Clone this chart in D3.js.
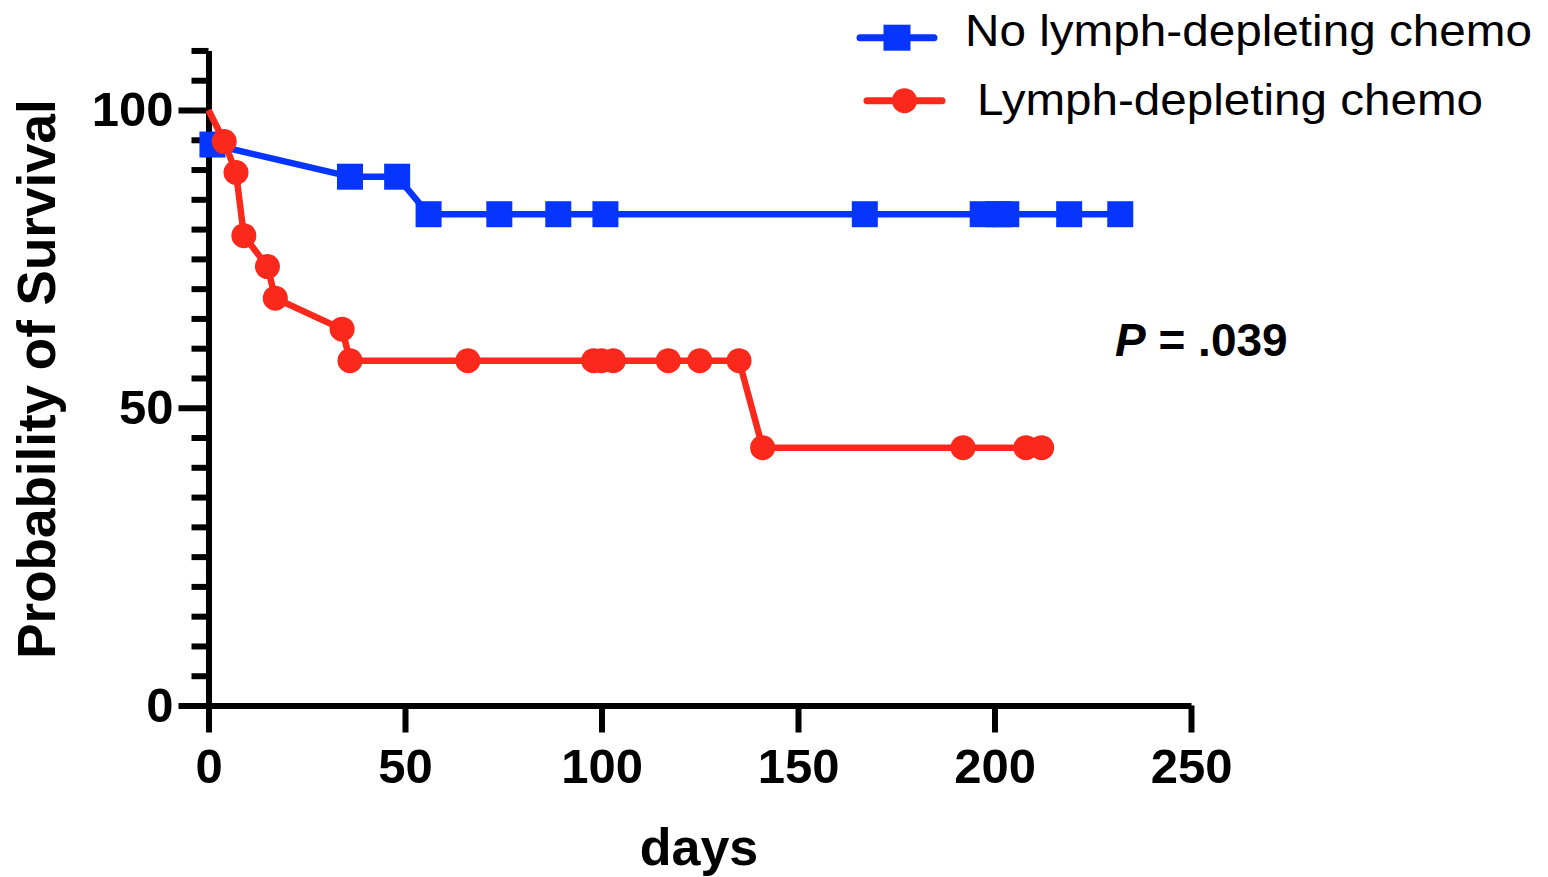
<!DOCTYPE html>
<html>
<head>
<meta charset="utf-8">
<script src="https://cdn.jsdelivr.net/npm/d3@7"></script>
<style>
  html, body { margin: 0; padding: 0; background: #fff; }
  svg { display: block; font-family: "Liberation Sans", Arial, Helvetica, sans-serif; }
</style>
</head>
<body>
<svg id="chart" width="1548" height="877"></svg>
<script>
// ---- data ----
const seriesNames = ["No lymph-depleting chemo", "Lymph-depleting chemo"];
const blueDays = [1, 36, 48, 56, 74, 89, 101, 167, 197, 201, 203, 219, 232];
const blueSurv = [94.2, 88.8, 88.8, 82.5, 82.5, 82.5, 82.5, 82.5, 82.5, 82.5, 82.5, 82.5, 82.5];
const redDays = [0, 4, 7, 9, 15, 17, 34, 36, 66, 98, 100, 103, 117, 125, 135, 141, 192, 208, 212];
const redSurv = [100, 94.7, 89.5, 78.9, 73.7, 68.4, 63.2, 57.9, 57.9, 57.9, 57.9, 57.9, 57.9, 57.9, 57.9, 43.3, 43.3, 43.3, 43.3];
const redMarker = [false, true, true, true, true, true, true, true, true, true, true, true, true, true, true, true, true, true, true];
const xTicks = [0, 50, 100, 150, 200, 250];
const yMajorTicks = [0, 50, 100];
const yMinorTicks = [5, 10, 15, 20, 25, 30, 35, 40, 45, 55, 60, 65, 70, 75, 80, 85, 90, 95, 105, 110];
const pText = ["P", " = .039"];
const xTitle = "days";
const yTitle = "Probability of Survival";

const BLUE = "#0635ff";
const RED = "#fa291c";

const svg = d3.select("#chart");
const x = d3.scaleLinear().domain([0, 250]).range([208.5, 1191]);
const y = d3.scaleLinear().domain([0, 110]).range([705.5, 50.45]);

const blue = blueDays.map((d, i) => ({ d, s: blueSurv[i] }));
const red = redDays.map((d, i) => ({ d, s: redSurv[i], m: redMarker[i] }));

// ---- axes ----
const axW = 6;
const gy = svg.append("g").attr("transform", `translate(${x(0)},0)`);
gy.call(d3.axisLeft(y).tickValues(yMinorTicks).tickSize(17).tickSizeOuter(0).tickFormat(""));
gy.selectAll("text").remove();
const gy2 = svg.append("g").attr("transform", `translate(${x(0)},0)`);
gy2.call(d3.axisLeft(y).tickValues(yMajorTicks).tickSize(30).tickSizeOuter(0).tickPadding(5).tickFormat(d3.format("d")));
gy2.select(".domain").remove();

const gx = svg.append("g").attr("transform", `translate(0,${y(0)})`);
gx.call(d3.axisBottom(x).tickValues(xTicks).tickSize(27).tickSizeOuter(0).tickPadding(15.5).tickFormat(d3.format("d")));

svg.selectAll(".domain, .tick line")
  .attr("stroke", "#000").attr("stroke-width", axW);
svg.selectAll(".tick text")
  .attr("fill", "#000")
  .style("font-size", "49px").style("font-weight", "bold")
  .style("font-family", "'Liberation Sans', Arial, sans-serif");

// ---- series ----
const line = d3.line().x(p => x(p.d)).y(p => y(p.s));
svg.append("path").datum(blue).attr("d", line)
  .attr("fill", "none").attr("stroke", BLUE).attr("stroke-width", 6.5).attr("stroke-linejoin", "round");
const sq = 26;
svg.append("g").selectAll("rect").data(blue).join("rect")
  .attr("x", p => x(p.d) - sq / 2).attr("y", p => y(p.s) - sq / 2)
  .attr("width", sq).attr("height", sq).attr("fill", BLUE);

svg.append("path").datum(red).attr("d", line)
  .attr("fill", "none").attr("stroke", RED).attr("stroke-width", 6.5).attr("stroke-linejoin", "round");
svg.append("g").selectAll("circle").data(red.filter(p => p.m)).join("circle")
  .attr("cx", p => x(p.d)).attr("cy", p => y(p.s)).attr("r", 12.5).attr("fill", RED);

// ---- titles ----
svg.append("text").attr("x", 699).attr("y", 865).attr("text-anchor", "middle")
  .style("font-size", "52px").style("font-weight", "bold").text(xTitle);
svg.append("text").attr("transform", "translate(55,379) rotate(-90)").attr("text-anchor", "middle")
  .style("font-size", "53px").style("font-weight", "bold").text(yTitle);

// P value
const pt = svg.append("text").attr("x", 1115).attr("y", 356)
  .style("font-size", "46px").style("font-weight", "bold");
pt.append("tspan").style("font-style", "italic").text(pText[0]);
pt.append("tspan").text(pText[1]);

// ---- legend ----
const lg = svg.append("g");
lg.append("line").attr("x1", 860).attr("x2", 934).attr("y1", 37.7).attr("y2", 37.7)
  .attr("stroke", BLUE).attr("stroke-width", 7).attr("stroke-linecap", "round");
lg.append("rect").attr("x", 897 - 13.5).attr("y", 37.7 - 13).attr("width", 27).attr("height", 26).attr("fill", BLUE);
lg.append("text").attr("x", 965).attr("y", 46).style("font-size", "44px")
  .attr("textLength", 567).attr("lengthAdjust", "spacingAndGlyphs").text(seriesNames[0]);

lg.append("line").attr("x1", 867).attr("x2", 942).attr("y1", 100.7).attr("y2", 100.7)
  .attr("stroke", RED).attr("stroke-width", 7).attr("stroke-linecap", "round");
lg.append("circle").attr("cx", 904.5).attr("cy", 100.7).attr("r", 12.5).attr("fill", RED);
lg.append("text").attr("x", 977).attr("y", 115).style("font-size", "44px")
  .attr("textLength", 506).attr("lengthAdjust", "spacingAndGlyphs").text(seriesNames[1]);
</script>
</body>
</html>
